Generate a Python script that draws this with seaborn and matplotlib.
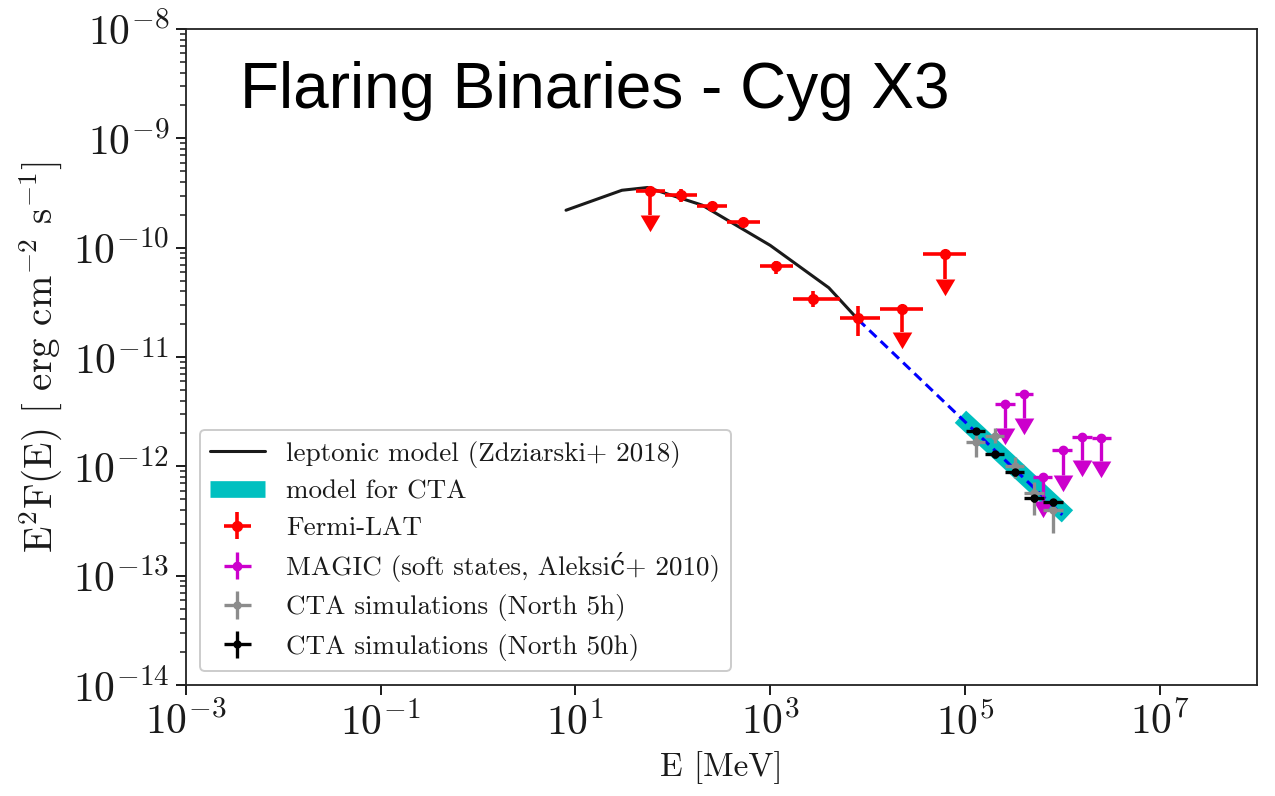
import numpy as np
import pandas as pd
import matplotlib
matplotlib.use("Agg")
import matplotlib.pyplot as plt
from matplotlib import ticker
import seaborn as sns

# ---------------- data ----------------
model_E = [8, 30, 55, 200, 1000, 4000, 8000]
model_F = [2.2e-10, 3.35e-10, 3.55e-10, 2.45e-10, 1.05e-10, 4.3e-11, 2.2e-11]

ext_E = [8000, 1.0e6]
ext_F = [2.2e-11, 3.6e-13]

cta_model_E = [9.0e4, 1.13e6]
cta_model_F = [2.84e-12, 3.49e-13]

fermi_E = [121, 253, 527, 1161, 2735, 8000]
fermi_F = [3.05e-10, 2.43e-10, 1.72e-10, 6.81e-11, 3.42e-11, 2.28e-11]
fermi_Elo = [84, 176, 358, 781, 1706, 5212]
fermi_Ehi = [176, 358, 781, 1706, 5212, 13330]
fermi_Flo = [2.63e-10, 2.27e-10, 1.60e-10, 5.80e-11, 2.89e-11, 1.54e-11]
fermi_Fhi = [3.46e-10, 2.60e-10, 1.85e-10, 7.60e-11, 4.05e-11, 2.95e-11]

fermi_ul_E = [58, 22800, 62100]
fermi_ul_F = [3.33e-10, 2.77e-11, 8.69e-11]
fermi_ul_Elo = [41.4, 13330, 37000]
fermi_ul_Ehi = [84, 37000, 101900]
fermi_ul_Fbase = [1.97e-10, 1.70e-11, 5.21e-11]

magic_E = [2.56e5, 4.02e5, 6.34e5, 1.02e6, 1.61e6, 2.52e6]
magic_F = [3.68e-12, 4.55e-12, 8.05e-13, 1.41e-12, 1.87e-12, 1.80e-12]
magic_Elo = [2.02e5, 3.24e5, 4.97e5, 7.90e5, 1.27e6, 2.00e6]
magic_Ehi = [3.24e5, 4.97e5, 7.90e5, 1.27e6, 2.00e6, 3.20e6]
magic_Fbase = [2.22e-12, 2.74e-12, 4.79e-13, 8.34e-13, 1.14e-12, 1.11e-12]

cta_E = [1.29e5, 2.02e5, 3.24e5, 5.12e5, 8.04e5]
cta_Elo = [1.03e5, 1.61e5, 2.58e5, 4.07e5, 6.40e5]
cta_Ehi = [1.62e5, 2.55e5, 4.08e5, 6.45e5, 1.01e6]

cta50_F = [2.10e-12, 1.29e-12, 8.81e-13, 5.10e-13, 4.69e-13]
cta50_Flo = [1.96e-12, 1.20e-12, 8.20e-13, 4.75e-13, 4.35e-13]
cta50_Fhi = [2.25e-12, 1.38e-12, 9.45e-13, 5.50e-13, 5.05e-13]

cta5_F = [1.66e-12, 1.91e-12, 1.01e-12, 5.67e-13, 3.99e-13]
cta5_Flo = [1.23e-12, 1.62e-12, 7.77e-13, 3.59e-13, 2.44e-13]
cta5_Fhi = [1.93e-12, 2.22e-12, 1.23e-12, 7.25e-13, 5.10e-13]

x_ticks = [1e-3, 1e-1, 1e1, 1e3, 1e5, 1e7]
y_ticks = [1e-14, 1e-13, 1e-12, 1e-11, 1e-10, 1e-9, 1e-8]

labels = ["leptonic model (Zdziarski+ 2018)",
          "model for CTA",
          "Fermi-LAT",
          "MAGIC (soft states, Aleksić+ 2010)",
          "CTA simulations (North 5h)",
          "CTA simulations (North 50h)"]
title = "Flaring Binaries - Cyg X3"

# ---------------- style ----------------
sns.set_theme(style="ticks")
plt.rcParams["font.family"] = ["cmr10", "DejaVu Serif"]
plt.rcParams["mathtext.fontset"] = "cm"
plt.rcParams["axes.formatter.use_mathtext"] = True
plt.rcParams["axes.unicode_minus"] = True
for k in ["text.color", "axes.labelcolor", "xtick.color", "ytick.color"]:
    plt.rcParams[k] = "black"

fig = plt.figure(figsize=(12.75, 7.96), dpi=100)
ax = fig.add_axes([186 / 1275, 1 - 685 / 796, (1257 - 186) / 1275, (685 - 29) / 796])
ax.set_xscale("log")
ax.set_yscale("log")

# ---------------- model lines ----------------
df_model = pd.DataFrame({"E": model_E, "F": model_F})
sns.lineplot(data=df_model, x="E", y="F", ax=ax, color="k", lw=2.2, sort=False, zorder=3)
h_model = ax.lines[-1]

df_cta_model = pd.DataFrame({"E": cta_model_E, "F": cta_model_F})
sns.lineplot(data=df_cta_model, x="E", y="F", ax=ax, color="#00c0c0", lw=12,
             solid_capstyle="butt", sort=False, zorder=2)
h_cta = ax.lines[-1]

df_ext = pd.DataFrame({"E": ext_E, "F": ext_F})
sns.lineplot(data=df_ext, x="E", y="F", ax=ax, color="#0000ff", lw=2.2, sort=False, zorder=4)
ax.lines[-1].set_dashes((3.2, 1.9))

# ---------------- data points ----------------
def asym(v, lo, hi):
    v, lo, hi = np.asarray(v), np.asarray(lo), np.asarray(hi)
    return [v - lo, hi - v]

RED, MAG, GREY, BLK = "#ff0000", "#cc00cc", "#8c8c8c", "#000000"

eb_fermi = ax.errorbar(fermi_E, fermi_F, xerr=asym(fermi_E, fermi_Elo, fermi_Ehi),
                       yerr=asym(fermi_F, fermi_Flo, fermi_Fhi), fmt="o", color=RED,
                       ms=7, elinewidth=2.6, capsize=0, zorder=5)
eb_fermi_ul = ax.errorbar(fermi_ul_E, fermi_ul_F, xerr=asym(fermi_ul_E, fermi_ul_Elo, fermi_ul_Ehi),
                          yerr=np.asarray(fermi_ul_F) - np.asarray(fermi_ul_Fbase), uplims=True,
                          fmt="o", color=RED, ms=7, elinewidth=2.6, capsize=0, zorder=5)
eb_magic = ax.errorbar(magic_E, magic_F, xerr=asym(magic_E, magic_Elo, magic_Ehi),
                       yerr=np.asarray(magic_F) - np.asarray(magic_Fbase), uplims=True,
                       fmt="o", color=MAG, ms=6, elinewidth=2.4, capsize=0, zorder=5)
eb_5h = ax.errorbar(cta_E, cta5_F, xerr=asym(cta_E, cta_Elo, cta_Ehi),
                    yerr=asym(cta5_F, cta5_Flo, cta5_Fhi), fmt="o", color=GREY,
                    ms=5, elinewidth=2.4, capsize=0, zorder=6)
eb_50h = ax.errorbar(cta_E, cta50_F, xerr=asym(cta_E, cta_Elo, cta_Ehi),
                     yerr=asym(cta50_F, cta50_Flo, cta50_Fhi), fmt="o", color=BLK,
                     ms=5, elinewidth=2.4, capsize=0, zorder=7)

ul_sets = [(eb_fermi_ul, RED), (eb_magic, MAG)]
for eb, c in ul_sets:
    for ln in eb.lines[1]:
        ln.set_markersize(0)

# ---------------- axes ----------------
ax.set_xlim(1e-3, 1e8)
ax.set_ylim(1e-14, 1e-8)
ax.xaxis.set_major_locator(ticker.FixedLocator(x_ticks))
ax.xaxis.set_major_formatter(ticker.LogFormatterSciNotation())
ax.xaxis.set_minor_locator(ticker.NullLocator())
ax.yaxis.set_major_locator(ticker.FixedLocator(y_ticks))
ax.yaxis.set_major_formatter(ticker.LogFormatterSciNotation())
ax.yaxis.set_minor_locator(ticker.LogLocator(base=10, subs=np.arange(2, 10), numticks=20))
ax.yaxis.set_minor_formatter(ticker.NullFormatter())
ax.tick_params(axis="both", which="major", direction="out", length=7, width=1.4,
               labelsize=30, color="k", labelcolor="k", pad=5)
ax.tick_params(axis="y", which="minor", direction="out", length=4, width=1.1, color="k")
for s in ax.spines.values():
    s.set_color("#222222")
    s.set_linewidth(1.3)
ax.set_xlabel("E [MeV]", fontsize=24, labelpad=6, color="k")
ax.set_ylabel(r"E$^2$F(E) [ erg cm$^{-2}$ s$^{-1}$]", fontsize=28, labelpad=6, color="k")
ax.grid(False)

leg = ax.legend([h_model, h_cta, eb_fermi, eb_magic, eb_5h, eb_50h], labels,
                loc="lower left", fontsize=19.5, labelspacing=0.45, frameon=True,
                fancybox=True, edgecolor="0.8", framealpha=1.0, borderpad=0.4)
leg.get_frame().set_linewidth(1.4)
for t in leg.get_texts():
    t.set_color("k")

# arrow heads for upper limits (after the legend is built)
tri = [(-1.0, 0.0), (1.0, 0.0), (0.0, -1.7)]
for eb, c in ul_sets:
    for ln in eb.lines[1]:
        ln.set_marker(tri)
        ln.set_markersize(24)
        ln.set_markerfacecolor(c)
        ln.set_markeredgecolor(c)
        ln.set_markeredgewidth(0)

fig.text(240 / 1275, 1 - 108 / 796, title, fontsize=46, family="Liberation Sans",
         ha="left", va="baseline", color="black")

fig.savefig("out.png", dpi=100)
